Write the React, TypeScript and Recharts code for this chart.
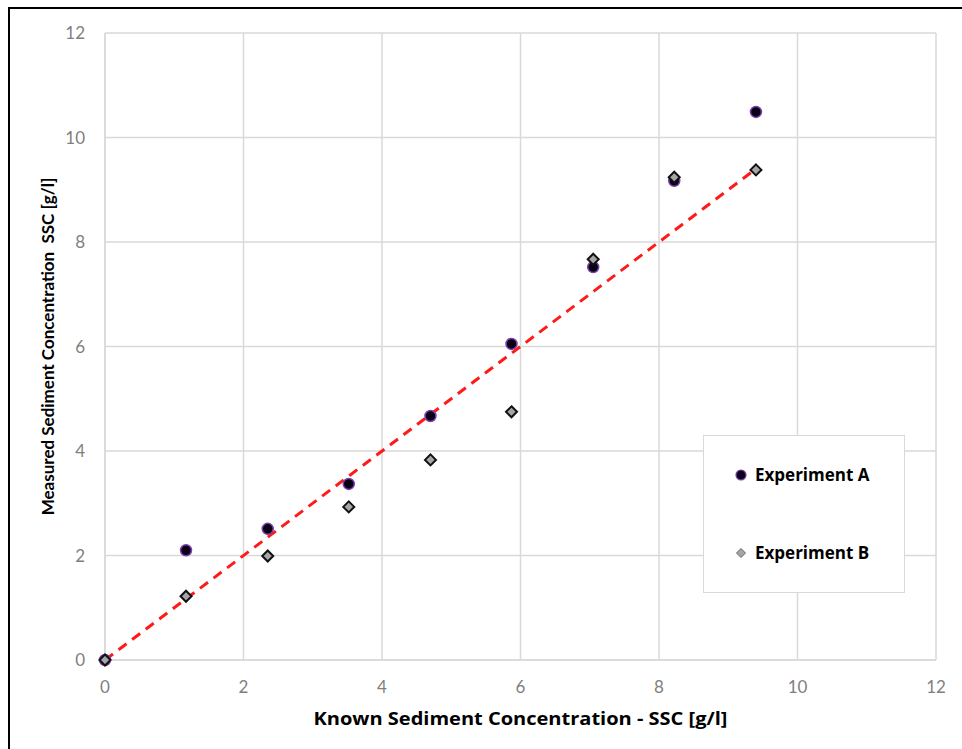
import React from 'react';
import { ScatterChart, Scatter, XAxis, YAxis, CartesianGrid } from 'recharts';

const knownSSC = [0, 1.17, 2.35, 3.52, 4.7, 5.87, 7.05, 8.22, 9.4];
const measuredA = [0, 2.1, 2.51, 3.37, 4.67, 6.05, 7.52, 9.17, 10.49];
const measuredB = [0, 1.22, 1.99, 2.93, 3.83, 4.75, 7.67, 9.24, 9.38];
const lineX = [0, 9.4];
const lineY = [0, 9.4];
const axisTicks = [0, 2, 4, 6, 8, 10, 12];
const seriesNames = ['Experiment A', 'Experiment B'];

const dataA = knownSSC.map((x, i) => ({ x, y: measuredA[i] }));
const dataB = knownSSC.map((x, i) => ({ x, y: measuredB[i] }));
const dataLine = lineX.map((x, i) => ({ x, y: lineY[i] }));

const FONT = 'Lato, "Open Sans", sans-serif';
const FONT_WIDE = '"Open Sans", Lato, sans-serif';

const CircleMark = (p: any) => (
  <circle cx={p.cx} cy={p.cy} r={5.5} fill="#0a0014" stroke="#7a3fb0" strokeWidth={1.5} />
);
const DiamondMark = (p: any) => {
  const s = 5.5;
  return (
    <path
      d={`M${p.cx},${p.cy - s}L${p.cx + s},${p.cy}L${p.cx},${p.cy + s}L${p.cx - s},${p.cy}Z`}
      fill="#a6a6a6"
      stroke="#111"
      strokeWidth={2}
    />
  );
};
const NoMark = () => <g />;

const YTitle = (props: any) => {
  const vb = props.viewBox || {};
  const cx = 47;
  const cy = vb.y + vb.height / 2;
  return (
    <text
      x={cx}
      y={cy}
      transform={`rotate(-90 ${cx} ${cy})`}
      textAnchor="middle"
      dominantBaseline="central"
      fontFamily={FONT}
      fontWeight={700}
      fontSize={17}
      fill="#000"
    >
      {'Measured Sediment Concentration\u00a0 SSC [g/l]'}
    </text>
  );
};

const XTitle = (props: any) => {
  const vb = props.viewBox || {};
  const cx = vb.x + vb.width / 2;
  return (
    <text
      x={cx}
      y={718}
      textAnchor="middle"
      dominantBaseline="central"
      fontFamily={FONT_WIDE}
      fontWeight={700}
      fontSize={18}
      textLength={414}
      lengthAdjust="spacingAndGlyphs"
      fill="#000"
    >
      Known Sediment Concentration - SSC [g/l]
    </text>
  );
};

export default function App() {
  return (
    <div style={{ position: 'absolute', left: 0, top: 0, width: 962, height: 749, background: '#fff' }}>
      <div
        style={{
          position: 'absolute',
          left: 8,
          top: 7,
          width: 954,
          height: 742,
          borderTop: '2px solid #000',
          borderLeft: '2px solid #000',
          boxSizing: 'border-box',
        }}
      />
      <div style={{ position: 'absolute', left: 0, top: 0 }}>
        <ScatterChart width={962} height={749} margin={{ top: 33, right: 26, bottom: 29, left: 45 }}>
          <CartesianGrid stroke="#d9d9d9" strokeWidth={1.5} />
          <XAxis
            type="number"
            dataKey="x"
            domain={[0, 12]}
            ticks={axisTicks}
            height={60}
            axisLine={{ stroke: '#d9d9d9', strokeWidth: 1.5 }}
            tickLine={false}
            tick={{ fill: '#7f7f7f', fontSize: 17, fontFamily: FONT }}
            tickMargin={15}
            label={<XTitle />}
          />
          <YAxis
            type="number"
            dataKey="y"
            domain={[0, 12]}
            ticks={axisTicks}
            width={60}
            axisLine={{ stroke: '#d9d9d9', strokeWidth: 1.5 }}
            tickLine={false}
            tick={{ fill: '#7f7f7f', fontSize: 17, fontFamily: FONT }}
            tickMargin={14}
            label={<YTitle />}
          />
          <Scatter
            data={dataLine}
            line={{ stroke: '#ff1a1a', strokeWidth: 3, strokeDasharray: '10 7' }}
            shape={<NoMark />}
            legendType="none"
            isAnimationActive={false}
          />
          <Scatter name={seriesNames[0]} data={dataA} shape={<CircleMark />} isAnimationActive={false} />
          <Scatter name={seriesNames[1]} data={dataB} shape={<DiamondMark />} isAnimationActive={false} />
        </ScatterChart>
      </div>
      <div
        style={{
          position: 'absolute',
          left: 703,
          top: 435,
          width: 202,
          height: 158,
          border: '1.5px solid #d9d9d9',
          boxSizing: 'border-box',
          background: '#fff',
          fontFamily: FONT_WIDE,
          fontWeight: 700,
          fontSize: 17,
          color: '#000',
        }}
      >
        <div style={{ position: 'absolute', left: 30, top: 27, display: 'flex', alignItems: 'center' }}>
          <svg width={14} height={14} style={{ marginRight: 7 }}>
            <circle cx={7} cy={7} r={5} fill="#0a0014" stroke="#7a3fb0" strokeWidth={1.2} />
          </svg>
          <span>{seriesNames[0]}</span>
        </div>
        <div style={{ position: 'absolute', left: 30, top: 105, display: 'flex', alignItems: 'center' }}>
          <svg width={14} height={14} style={{ marginRight: 7 }}>
            <path d="M7,2.5L11.5,7L7,11.5L2.5,7Z" fill="#a6a6a6" stroke="#666" strokeWidth={1} />
          </svg>
          <span>{seriesNames[1]}</span>
        </div>
      </div>
    </div>
  );
}
